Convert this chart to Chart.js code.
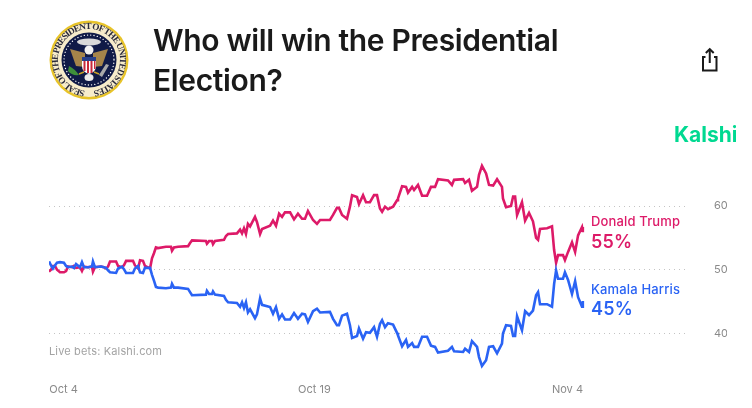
<!DOCTYPE html>
<html>
<head>
<meta charset="utf-8">
<title>Who will win the Presidential Election?</title>
<script src="https://cdn.jsdelivr.net/npm/chart.js@4"></script>
<style>
  html, body { margin: 0; padding: 0; background: #fff; overflow: hidden; }
  body { width: 752px; height: 408px; position: relative; font-family: Inter, sans-serif; }
  canvas { position: absolute; left: 0; top: 0; }
  .txt { position: absolute; white-space: nowrap; line-height: 1; }
  h1 { position: absolute; left: 153px; top: 20px; margin: 0; font-size: 30px; line-height: 40px; font-weight: 600; color: #1a1a1a; letter-spacing: -0.35px; }
  #seal { position: absolute; left: 48px; top: 19px; }
  #share { position: absolute; left: 698px; top: 46px; }
</style>
</head>
<body>
<canvas id="grafico" width="752" height="408"></canvas>

<svg id="seal" width="82" height="82" viewBox="0 0 82 82">
  <defs><path id="arco" d="M 41 72 A 31 31 0 1 1 41.01 72"/></defs>
  <circle cx="41" cy="41" r="39.5" fill="#e8c42a"/>
  <circle cx="41" cy="41" r="37" fill="#f7eccb"/>
  <text font-family="Liberation Serif" font-weight="700" font-size="9.2" fill="#2a2a3a" textLength="186" lengthAdjust="spacing"><textPath href="#arco" startOffset="4">SEAL OF THE PRESIDENT OF THE UNITED STATES</textPath></text>
  <circle cx="41" cy="41" r="27.5" fill="#101a47"/>
  <circle cx="41" cy="41" r="25" fill="none" stroke="#fff" stroke-width="1.3" stroke-dasharray="0.1 3.2" stroke-linecap="round"/>
  <ellipse cx="41" cy="23" rx="12" ry="3.5" fill="#d9d9d9"/>
  <path d="M 37 34 L 22 30 L 28 47 L 37 48 Z" fill="#a5844a"/>
  <path d="M 45 34 L 60 30 L 54 47 L 45 48 Z" fill="#a5844a"/>
  <circle cx="41" cy="31" r="4.5" fill="#f2f2f2"/>
  <path d="M 34 38 H 48 V 47 Q 48 53 41 55 Q 34 53 34 47 Z" fill="#fff"/>
  <path d="M 35.5 42 H 37.5 V 52 H 35.5 Z M 39 42 H 41 V 54 H 39 Z M 42.5 42 H 44.5 V 54 H 42.5 Z M 46 42 H 47.5 V 50 H 46 Z" fill="#c8283c"/>
  <rect x="34" y="38" width="14" height="4" fill="#27408b"/>
  <path d="M 21 47 Q 27 50 31 56 Q 24 57 20 52 Z" fill="#3f8f3a"/>
  <path d="M 61 46 L 54 58 L 51 56 L 58 45 Z" fill="#a9a9a9"/>
  <path d="M 31 55 L 36 53 M 51 55 L 46 53" stroke="#c9a227" stroke-width="1.5"/>
  <ellipse cx="41" cy="58.5" rx="4.5" ry="3.5" fill="#ececec"/>
</svg>

<h1>Who will win the Presidential<br>Election?</h1>

<svg id="share" width="24" height="28" viewBox="0 0 24 28" fill="none" stroke="#1a1a1a" stroke-width="2">
  <path d="M 7.5 11 H 5 V 24.5 H 18.5 V 11 H 16"/>
  <path d="M 11.75 17 V 4"/>
  <path d="M 7.8 7 L 11.75 3.2 L 15.7 7"/>
</svg>

<div class="txt" style="left:674px;top:124px;font-size:21px;font-weight:700;color:#00d991;width:62px;overflow:hidden;">Kalshi</div>

<div class="txt" style="left:49px;top:346px;font-size:11px;letter-spacing:0.15px;color:#a3a3a3;">Live bets: Kalshi.com</div>

<div class="txt" style="left:591px;top:215px;font-size:13px;letter-spacing:0.15px;font-weight:500;color:#dd1a68;">Donald Trump</div>
<div class="txt" style="left:591px;top:233px;font-size:18px;letter-spacing:0.2px;font-weight:600;color:#dd1a68;">55%</div>
<div class="txt" style="left:591px;top:283px;font-size:13px;letter-spacing:0.15px;font-weight:500;color:#2a63f4;">Kamala Harris</div>
<div class="txt" style="left:591px;top:300px;font-size:18px;letter-spacing:0.2px;font-weight:600;color:#2a63f4;">45%</div>

<script>
// Dias desde 4 de outubro
const dias = [
  0.00, 0.12, 0.24, 0.37, 0.49, 0.67, 0.91, 1.04, 1.16, 1.40,
  1.52, 1.65, 1.89, 2.01, 2.13, 2.38, 2.62, 2.68, 2.80, 3.17,
  3.35, 3.48, 3.60, 3.72, 4.09, 4.21, 4.45, 4.57, 4.70, 5.12,
  5.24, 5.43, 5.55, 5.73, 5.85, 6.16, 6.28, 6.40, 6.52, 6.65,
  7.13, 7.44, 7.50, 7.62, 7.87, 8.48, 8.60, 8.72, 9.57, 9.63,
  9.76, 9.94, 10.00, 10.12, 10.67, 10.79, 10.92, 11.46, 11.65, 11.77,
  11.89, 12.01, 12.13, 12.26, 12.56, 12.68, 12.87, 12.99,
  13.48, 13.66, 13.84, 14.03, 14.21, 14.39, 14.70, 14.94, 15.18, 15.43,
  15.61, 15.79, 16.10, 16.34, 16.53, 17.13, 17.32, 17.56, 17.68, 17.87,
  18.17, 18.35, 18.48, 18.78, 18.90, 19.15, 19.33, 19.57, 19.82, 20.00,
  20.18, 20.31, 20.49, 20.67, 20.98, 21.22, 21.28, 21.53, 21.77, 21.89,
  22.14, 22.26, 22.50, 22.75, 23.05, 23.29, 23.54, 23.72, 24.33, 24.57,
  24.70, 25.25, 25.37, 25.61, 25.79, 26.10, 26.22, 26.40, 26.65, 26.83,
  27.08, 27.32, 27.62, 27.68, 27.87,
  28.17, 28.30, 28.42, 28.54, 28.84, 29.03, 29.27, 29.51, 29.70, 29.82,
  29.94, 30.37, 30.67, 30.80, 30.92, 31.04, 31.34, 31.46, 31.65, 31.89,
  32.08, 32.26, 32.50, 32.55
];

const trump = [
  49.7, 50.0, 50.6, 50.6, 50.0, 49.6, 49.6, 49.8, 50.5, 50.4,
  50.6, 50.3, 50.4, 49.8, 50.5, 50.4, 50.5, 49.7, 50.4, 50.5,
  50.4, 50.2, 50.5, 51.3, 51.3, 50.6, 50.4, 50.7, 51.4, 51.4,
  50.7, 50.2, 51.5, 51.4, 50.6, 50.2, 51.8, 52.6, 53.5, 53.4,
  53.6, 53.6, 53.0, 53.5, 53.6, 53.7, 54.2, 54.6, 54.5, 54.1,
  54.5, 54.5, 54.0, 54.5, 54.7, 55.3, 55.6, 55.7, 56.3, 55.7,
  56.5, 55.6, 57.2, 56.8, 58.3, 57.5, 55.6, 56.4,
  56.9, 57.7, 56.9, 58.8, 58.3, 59.0, 59.0, 57.9, 58.8, 58.0,
  58.0, 59.2, 57.8, 57.2, 57.8, 57.8, 58.6, 59.7, 59.7, 58.6,
  58.0, 59.9, 61.7, 61.4, 60.3, 61.7, 60.6, 60.6, 61.7, 61.7,
  59.6, 59.1, 59.9, 59.5, 59.9, 60.9, 61.2, 63.1, 63.0, 62.1,
  63.0, 62.5, 63.3, 61.6, 61.6, 63.0, 63.0, 64.2, 64.0, 63.3,
  64.1, 64.2, 63.6, 64.1, 62.4, 63.0, 64.9, 66.3, 65.1, 63.3,
  63.2, 64.2, 63.0, 61.2, 59.8,
  60.0, 61.5, 61.5, 58.6, 60.6, 57.7, 58.9, 57.6, 55.0, 54.7,
  56.4, 56.5, 56.8, 53.1, 51.1, 52.3, 52.3, 51.5, 52.8, 54.3,
  52.8, 55.4, 56.7, 55.9
];

const harris = [
  51.3, 50.7, 50.2, 50.7, 51.1, 51.2, 51.1, 50.6, 50.4, 50.5,
  50.3, 50.9, 50.4, 51.2, 50.4, 50.4, 50.5, 51.3, 50.4, 50.5,
  50.4, 50.3, 49.9, 49.6, 49.5, 50.2, 50.5, 50.1, 49.5, 49.5,
  50.2, 50.6, 49.6, 49.5, 50.3, 50.3, 49.2, 48.3, 47.3, 47.2,
  47.1, 47.2, 47.8, 47.2, 47.2, 47.0, 46.5, 46.0, 46.1, 46.7,
  46.2, 46.2, 46.6, 46.1, 45.9, 45.3, 44.9, 44.8, 44.2, 44.9,
  44.0, 44.9, 43.3, 43.8, 42.4, 43.0, 45.5, 44.5,
  44.15, 43.1, 44.15, 42.3, 43.0, 42.2, 42.2, 43.2, 42.3, 43.1,
  43.0, 41.8, 43.5, 43.9, 43.3, 43.4, 42.3, 41.3, 41.3, 42.8,
  43.1, 41.3, 39.3, 39.6, 40.8, 39.2, 40.2, 40.1, 41.0, 39.5,
  41.5, 42.1, 41.0, 41.6, 41.4, 40.1, 39.7, 38.0, 39.0, 37.9,
  38.5, 37.9, 37.9, 39.5, 39.5, 38.1, 37.9, 37.0, 37.3, 37.9,
  37.2, 37.1, 37.6, 37.1, 38.8, 37.9, 36.3, 34.9, 35.8, 37.9,
  38.0, 36.9, 38.4, 40.0, 41.3,
  41.2, 39.6, 39.6, 42.7, 40.5, 43.5, 42.9, 43.6, 46.0, 46.5,
  44.6, 44.6, 44.2, 47.8, 49.9, 48.6, 48.6, 49.6, 48.4, 46.2,
  48.2, 45.7, 44.2, 45.1
];

const rotulosX = ['Oct 4', 'Oct 19', 'Nov 4'];
const posicoesX = [0, 15.3, 30.73];
const ticksY = [40, 50, 60];

const corTrump = '#dd1a68';
const corHarris = '#2a63f4';

// Monta os pares x/y de uma série
function pontos(valores) {
    return valores.map((v, i) => ({ x: dias[i], y: v }));
}

function criarSerie(label, valores, cor, ordem) {
    return {
        label: label,
        data: pontos(valores),
        borderColor: cor,
        borderWidth: 2.6,
        pointRadius: 0,
        tension: 0,
        order: ordem
    };
}

new Chart(document.getElementById('grafico').getContext('2d'), {
    type: 'line',
    data: {
        datasets: [
            criarSerie('Donald Trump', trump, corTrump, 1),
            criarSerie('Kamala Harris', harris, corHarris, 0)
        ]
    },
    options: {
        responsive: false,
        animation: false,
        layout: { padding: { left: 49, right: 25, top: 155, bottom: 0 } },
        plugins: { legend: { display: false }, tooltip: { enabled: false } },
        scales: {
            x: {
                type: 'linear',
                min: 0,
                max: 38.78,
                border: { display: false },
                grid: { display: false },
                afterBuildTicks: s => { s.ticks = posicoesX.map(v => ({ value: v })); },
                afterFit: s => { s.height = 29.7; s.paddingLeft = 0; s.paddingRight = 0; },
                ticks: {
                    autoSkip: false,
                    maxRotation: 0,
                    padding: 3,
                    labelOffset: 14.5,
                    color: '#8a8a8a',
                    font: { family: 'Inter', size: 11 },
                    callback: (v, i) => rotulosX[i]
                }
            },
            y: {
                position: 'right',
                min: 33.9,
                max: 68,
                border: { display: false, dash: [1, 4] },
                grid: { color: '#c4c4c4', lineWidth: 1, drawTicks: false },
                afterBuildTicks: s => { s.ticks = ticksY.map(v => ({ value: v })); },
                afterFit: s => { s.width = 42; },
                ticks: {
                    padding: 29,
                    color: '#8a8a8a',
                    font: { family: 'Inter', size: 11 }
                }
            }
        }
    }
});
</script>
</body>
</html>
